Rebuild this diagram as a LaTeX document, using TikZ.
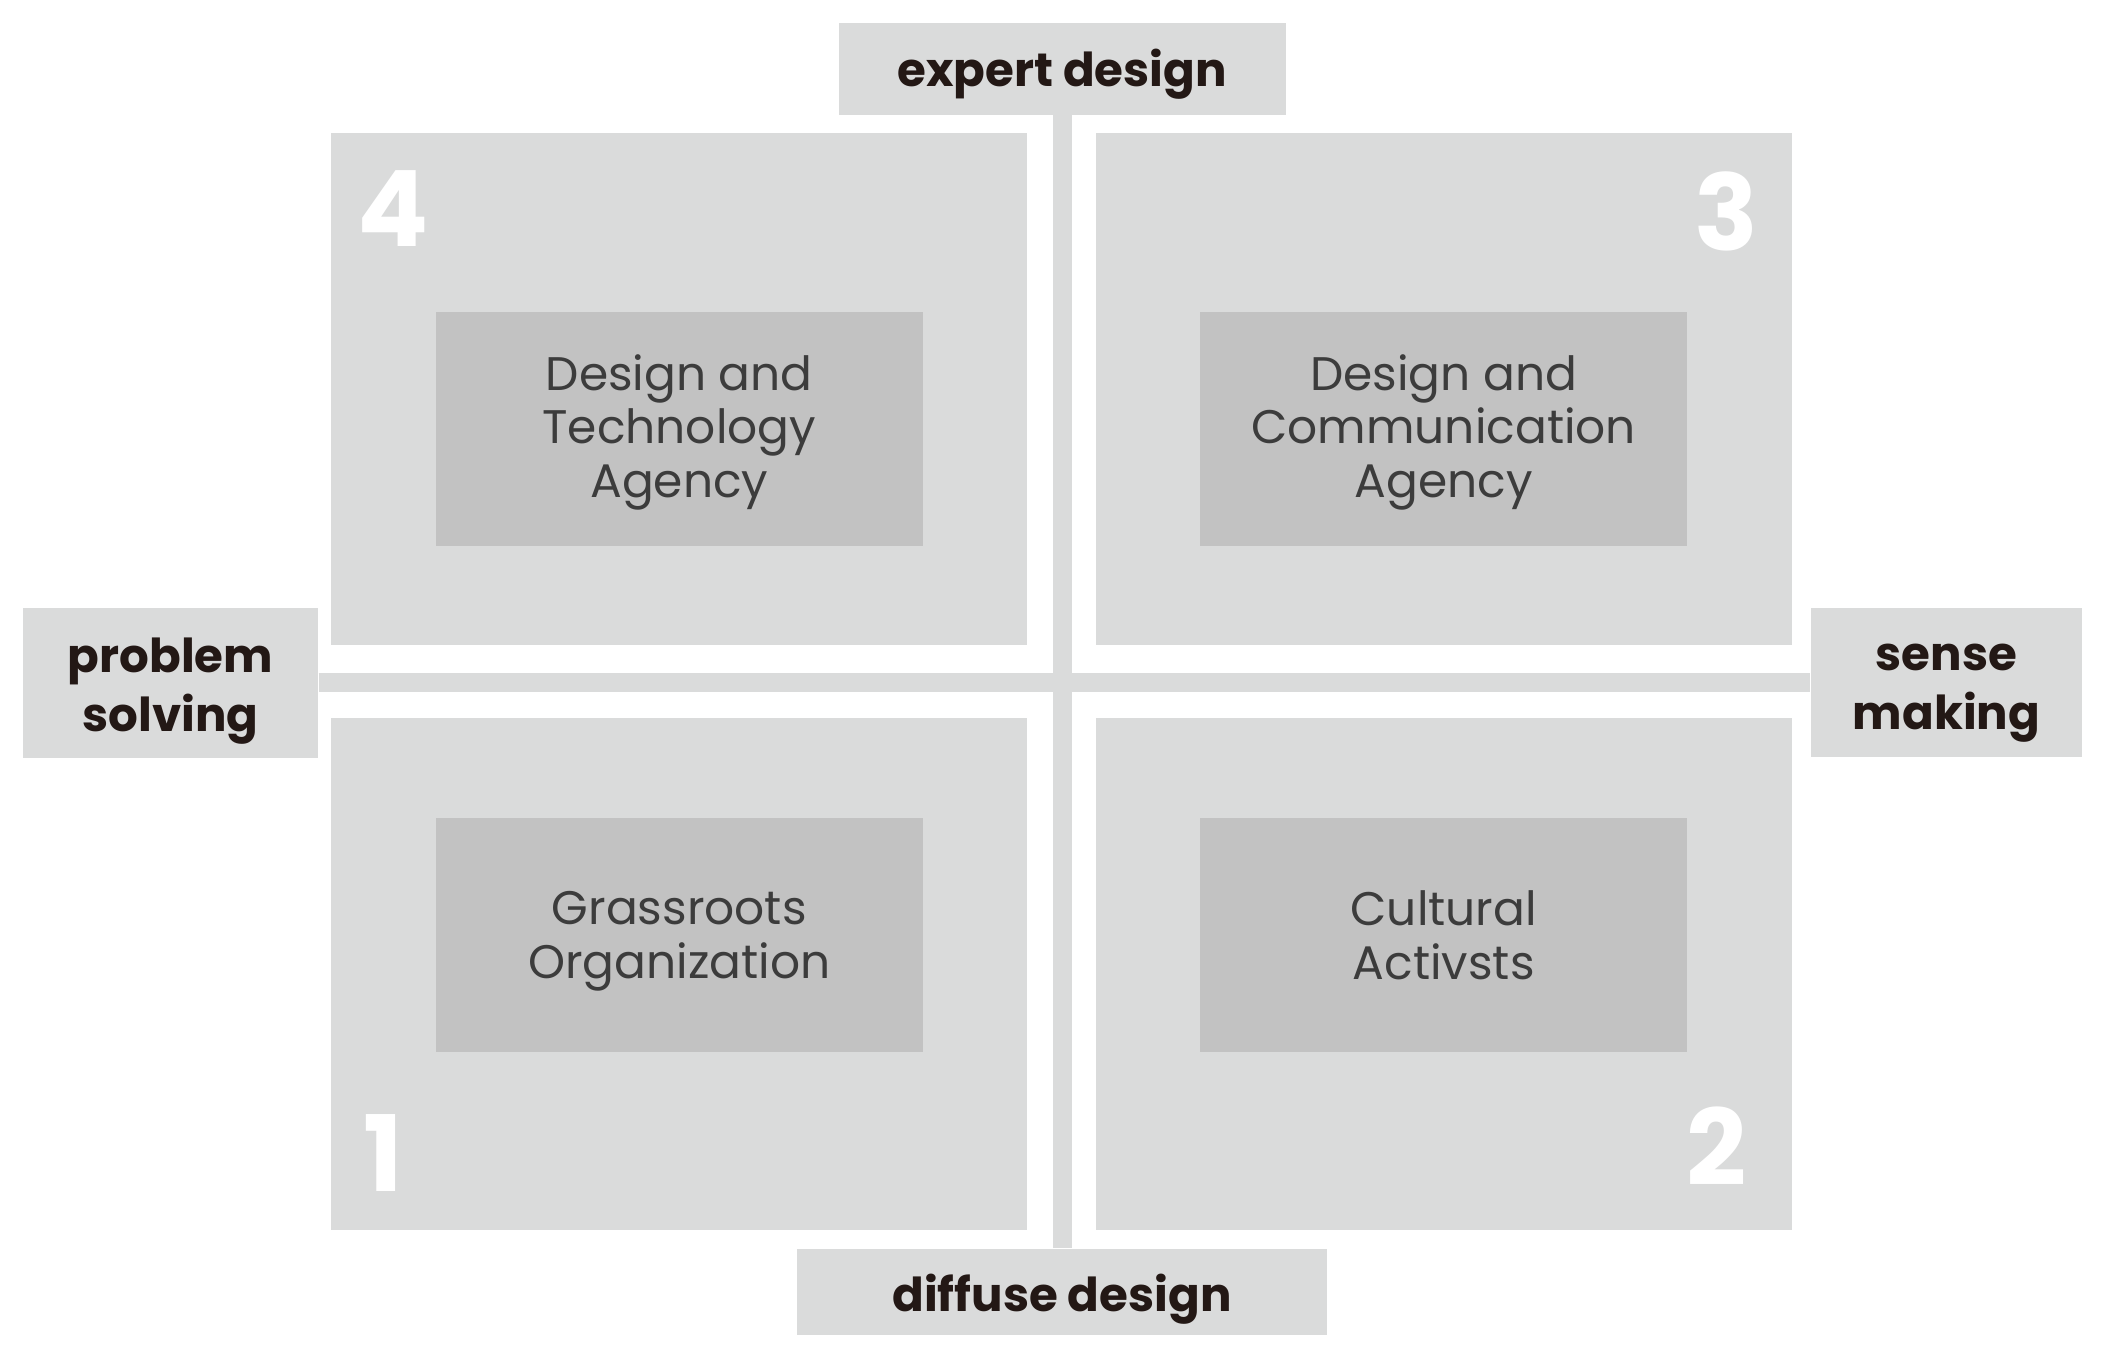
\documentclass[tikz,border=0pt]{standalone}
\usepackage{fontspec}
\setmainfont{Poppins}
\usepackage{tikz}
\usetikzlibrary{positioning}

\definecolor{panelgray}{HTML}{DADBDB}
\definecolor{agencygray}{HTML}{C2C2C2}
\definecolor{labeltext}{HTML}{231815}
\definecolor{agencytext}{HTML}{3C3C3C}

\tikzset{
    quadrant/.style={fill=panelgray, inner sep=0pt, minimum width=6.96cm, minimum height=5.12cm},
    agency/.style={fill=agencygray, inner sep=0pt, minimum width=4.87cm, minimum height=2.34cm, align=center, text=agencytext, font=\fontsize{13.4}{15.3}\selectfont},
    axislabel/.style={fill=panelgray, inner sep=0pt, align=center, text=labeltext, font=\bfseries\fontsize{13.3}{16.8}\selectfont},
    quadnum/.style={text=white, inner sep=0pt, font=\bfseries\fontsize{30}{30}\selectfont},
    axisbar/.style={draw=panelgray, line width=0.19cm},
}

\begin{document}
\begin{tikzpicture}
        \useasboundingbox (0,0) rectangle (21.02,-13.57);
        \coordinate (c) at (10.62,-6.825); % crossing of the two axes
        \node [quadrant, above left = 0.365cm and 0.34cm of c] (q4) {}; % top left
        \node [quadrant, above right = 0.365cm and 0.33cm of c] (q3) {}; % top right
        \node [quadrant, below left = 0.345cm and 0.34cm of c] (q1) {}; % bottom left
        \node [quadrant, below right = 0.345cm and 0.33cm of c] (q2) {}; % bottom right
        \node [agency] at ([yshift=-0.4cm]q4.center) (a4) {\rule{0pt}{0.42cm}Design and\\Technology\\Agency};
        \node [agency] at ([yshift=-0.4cm]q3.center) (a3) {\rule{0pt}{0.42cm}Design and\\Communication\\Agency};
        \node [agency] at ([yshift=0.385cm]q1.center) (a1) {Grassroots\\Or\smash{g}anization};
        \node [agency] at ([yshift=0.385cm]q2.center) (a2) {Cultural\\Activsts};
        \node [quadnum] at (3.935,-2.085) (n4) {4}; % quadrant numbers
        \node [quadnum] at (17.265,-2.11) (n3) {3};
        \node [quadnum] at (3.835,-11.525) (n1) {1};
        \node [quadnum] at (17.17,-11.465) (n2) {2};
        \node [axislabel, minimum width=4.47cm, minimum height=0.915cm] at (10.62,-0.69) (expert) {\raisebox{-0.05cm}[\height][\depth]{expert design}};
        \node [axislabel, minimum width=5.30cm, minimum height=0.86cm] at (10.62,-12.915) (diffuse) {\raisebox{-0.08cm}[\height][\depth]{diffuse design}};
        \node [axislabel, minimum width=2.95cm, minimum height=1.50cm] at (1.705,-6.825) (problem) {\rule{0pt}{0.51cm}problem\\solving};
        \node [axislabel, minimum width=2.71cm, minimum height=1.49cm] at (19.465,-6.825) (sense) {\rule{0pt}{0.47cm}sense\\making};
        \draw [axisbar] (expert) -- (diffuse); % vertical axis
        \draw [axisbar] (problem) -- (sense); % horizontal axis
\end{tikzpicture}
\end{document}
